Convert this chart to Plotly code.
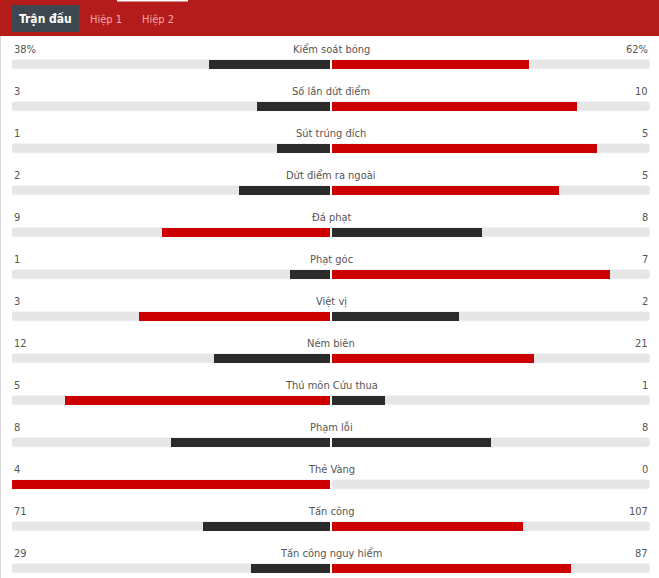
import plotly.graph_objects as go

W, H = 659, 578

tabs = ["Trận đấu", "Hiệp 1", "Hiệp 2"]
labels = ["Kiểm soát bóng", "Số lần dứt điểm", "Sút trúng đích", "Dứt điểm ra ngoài",
          "Đá phạt", "Phạt góc", "Việt vị", "Ném biên", "Thú môn Cứu thua",
          "Phạm lỗi", "Thẻ Vàng", "Tấn công", "Tấn công nguy hiểm"]
home = [38, 3, 1, 2, 9, 1, 3, 12, 5, 8, 4, 71, 29]
away = [62, 10, 5, 5, 8, 7, 2, 21, 1, 8, 0, 107, 87]
suffix = ["%"] + [""] * 12

RED = "#cc0000"
DARK = "#2b2b2b"
GREY = "#e6e6e6"
HEADER = "#b41c1c"
TEXT = "#555555"
FAMILY = "DejaVu Sans Condensed, Liberation Sans, sans-serif"

# plot area: x 12..650, y 43..578 (row pitch 42px)
L, R, T, B = 12, 9, 43, 0
PITCH = 42
GAP = 1 / 319
BW = 9 / PITCH


def px(x):
    return (x - L) / (W - L - R)


def py(y):
    return (H - B - y) / (H - T - B)


rows = list(range(len(labels)))
lf, rf, lc, rc = [], [], [], []
for h, a in zip(home, away):
    tot = h + a
    lf.append(-(h / tot) * (1 - GAP) if tot else 0)
    rf.append((a / tot) * (1 - GAP) if tot else 0)
    lc.append(RED if h > a else DARK)
    rc.append(RED if a > h else DARK)

fig = go.Figure()
bar = dict(orientation="h", y=rows, width=BW, hoverinfo="skip", showlegend=False)
fig.add_trace(go.Bar(x=[-(1 - GAP)] * len(rows), base=-GAP, marker=dict(color=GREY, cornerradius=3), **bar))
fig.add_trace(go.Bar(x=[1 - GAP] * len(rows), base=GAP, marker=dict(color=GREY, cornerradius=3), **bar))
fig.add_trace(go.Bar(x=lf, base=-GAP, marker=dict(color=lc, line_width=0), **bar))
fig.add_trace(go.Bar(x=rf, base=GAP, marker=dict(color=rc, line_width=0), **bar))

font = dict(family=FAMILY, size=11, color=TEXT)
off = -14.5 / PITCH
annotations = []
for i, name in enumerate(labels):
    annotations.append(dict(x=0, y=i + off, text=name, showarrow=False, font=font,
                            xanchor="center", yanchor="middle"))
    annotations.append(dict(x=-1, y=i + off, text=f"{home[i]}{suffix[i]}", showarrow=False,
                            font=font, xanchor="left", yanchor="middle"))
    annotations.append(dict(x=1, y=i + off, text=f"{away[i]}{suffix[i]}", showarrow=False,
                            font=font, xanchor="right", yanchor="middle"))

# tabs in the header
tab_x = [45, 106, 158]
for n, (t, cx) in enumerate(zip(tabs, tab_x)):
    annotations.append(dict(
        xref="paper", yref="paper", x=px(cx), y=py(19.5), text=f"<b>{t}</b>" if n == 0 else t,
        showarrow=False, xanchor="center", yanchor="middle",
        font=dict(family=FAMILY, size=12 if n == 0 else 11,
                  color="white" if n == 0 else "#f6a8a8")))

shapes = [
    dict(type="rect", xref="paper", yref="paper", x0=px(0), x1=px(W), y0=py(36), y1=py(0),
         fillcolor=HEADER, line_width=0, layer="below"),
    dict(type="rect", xref="paper", yref="paper", x0=px(117), x1=px(188), y0=py(1.5), y1=py(0),
         fillcolor="white", line_width=0),
    dict(type="rect", xref="paper", yref="paper", x0=px(12), x1=px(79), y0=py(32), y1=py(5),
         fillcolor="#3c4750", line_width=0),
    dict(type="line", xref="paper", yref="paper", x0=px(0.5), x1=px(0.5), y0=py(36), y1=py(H),
         line=dict(color="#d8d8d8", width=1)),
]

fig.update_layout(
    width=W, height=H,
    margin=dict(l=L, r=R, t=T, b=B, pad=0),
    plot_bgcolor="white", paper_bgcolor="white",
    barmode="overlay", bargap=0,
    xaxis=dict(range=[-1, 1], visible=False, fixedrange=True),
    yaxis=dict(range=[12 + (H - 568) / PITCH, -0.5], visible=False, fixedrange=True),
    annotations=annotations,
    shapes=shapes,
)
fig.write_html("out.html", config={"displayModeBar": False},
               post_script="document.body.style.margin='0';document.body.style.overflow='hidden';")
